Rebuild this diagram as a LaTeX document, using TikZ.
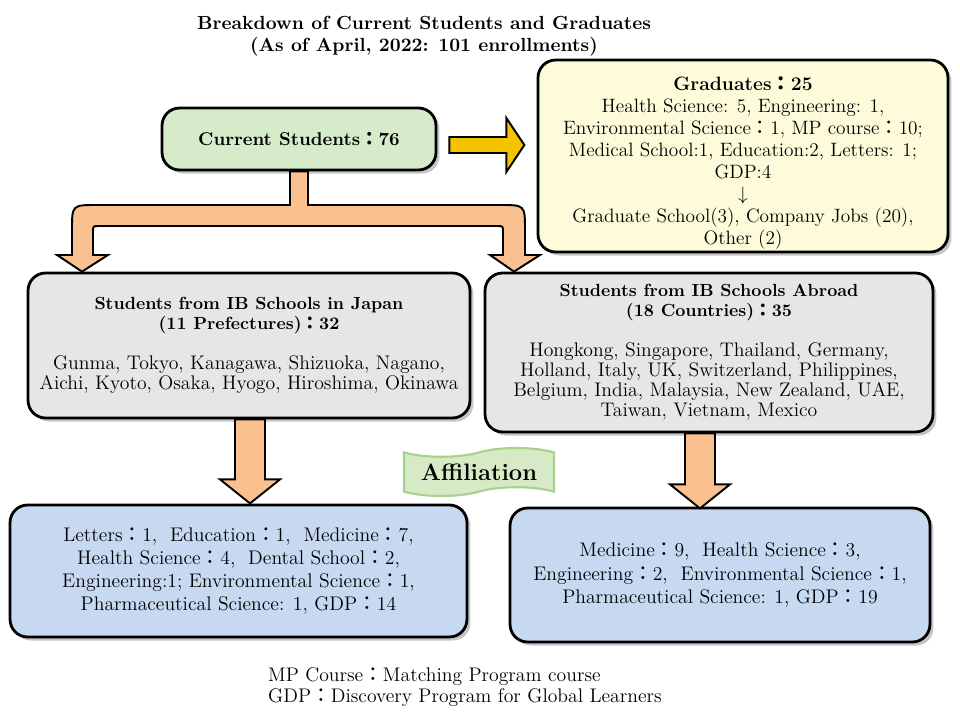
\documentclass[tikz,border=0pt]{standalone}
\usepackage{fontspec}
\newfontfamily\cjk{Noto Sans CJK JP}
\usepackage{tikz}
\usetikzlibrary{calc,shadows,shapes.symbols}

\definecolor{curgreen}{HTML}{D5EBC9}
\definecolor{gradyellow}{HTML}{FDFBD9}
\definecolor{ibgray}{HTML}{E6E6E6}
\definecolor{affblue}{HTML}{C6D9F1}
\definecolor{arroworange}{HTML}{FAC090}
\definecolor{arrowgold}{HTML}{F5C400}
\definecolor{tapegreen}{HTML}{D6EAC6}
\definecolor{tapeedge}{HTML}{A9D18E}

\newcommand{\fc}{{\cjk ：}}

\begin{document}
\begin{tikzpicture}[x=0.02cm, y=-0.02cm,
      nodes={align=center, font=\fontsize{11}{12.5}\selectfont},
      box/.style={draw=black, line width=1.6pt, rounded corners=10pt,
        drop shadow={opacity=0.45, shadow xshift=2pt, shadow yshift=-2pt}},
      blockarrow/.style={draw=black, line width=1.1pt, fill=arroworange, line join=miter},
      ]
  \useasboundingbox (0,0) rectangle (960,720);

  % title
  \node[font=\bfseries\fontsize{10.8}{12.5}\selectfont] (title) at (424,36)
    {Breakdown of Current Students and Graduates\\(As of April, 2022: 101 enrollments)};

  % boxes
  \node[box, fill=curgreen, minimum width=5.48cm, minimum height=1.24cm,
        font=\bfseries\fontsize{10.5}{12.5}\selectfont] (cur) at (299,139)
    {Current Students\fc 76};
  \node[box, fill=gradyellow, minimum width=8.2cm, minimum height=3.76cm, inner ysep=1.5pt] (grad) at (743,156)
    {\rule{0pt}{16pt}{\bfseries Graduates\fc 25}\\
     Health Science: 5, Engineering: 1,\\
     Environmental Science\fc 1, MP course\fc 10;\\
     Medical School:1, Education:2, Letters: 1;\\
     GDP:4\\
     $\downarrow$\\
     Graduate School(3), Company Jobs (20),\\
     Other (2)};
  \node[box, fill=ibgray, minimum width=8.84cm, minimum height=2.9cm,
        font=\fontsize{11.2}{11.5}\selectfont] (jp) at (249,345.5)
    {{\bfseries\fontsize{10}{10}\selectfont Students from IB Schools in Japan}\\
     {\bfseries\fontsize{10}{10}\selectfont (11 Prefectures)\fc 32}\\[11pt]
     Gunma, Tokyo, Kanagawa, Shizuoka, Nagano,\\
     Aichi, Kyoto, Osaka, Hyogo, Hiroshima, Okinawa};
  \node[box, fill=ibgray, minimum width=8.96cm, minimum height=3.18cm,
        font=\fontsize{11.2}{11.5}\selectfont] (ab) at (709,352.5)
    {{\bfseries\fontsize{10}{10}\selectfont Students from IB Schools Abroad}\\
     {\bfseries\fontsize{10}{10}\selectfont (18 Countries)\fc 35}\\[11pt]
     Hongkong, Singapore, Thailand, Germany,\\
     Holland, Italy, UK, Switzerland, Philippines,\\
     Belgium, India, Malaysia, New Zealand, UAE,\\
     Taiwan, Vietnam, Mexico};
  \node[box, fill=affblue, minimum width=9.14cm, minimum height=2.64cm,
        font=\fontsize{11.2}{13}\selectfont] (afjp) at (238.5,571)
    {Letters\fc 1,\ \ Education\fc 1,\ \ Medicine\fc 7,\\
     Health Science\fc 4,\ \ Dental School\fc 2,\\
     Engineering:1; Environmental Science\fc 1,\\
     Pharmaceutical Science: 1, GDP\fc 14};
  \node[box, fill=affblue, minimum width=8.4cm, minimum height=2.68cm,
        font=\fontsize{11.2}{13.3}\selectfont] (afab) at (720,575)
    {Medicine\fc 9,\ \ Health Science\fc 3,\\
     Engineering\fc 2,\ \ Environmental Science\fc 1,\\
     Pharmaceutical Science: 1, GDP\fc 19};

  % banner
  \node[tape, draw=tapeedge, line width=1.2pt, fill=tapegreen,
        minimum width=3cm, minimum height=0.96cm,
        font=\bfseries\fontsize{13.5}{15}\selectfont] (aff) at (479,472) {Affiliation};

  % note
  \node[anchor=west, align=left, font=\fontsize{11.2}{11.5}\selectfont] (note) at (262,687)
    {MP Course\fc Matching Program course\\GDP\fc Discovery Program for Global Learners};

  % arrows
  \draw[blockarrow, fill=arrowgold] ($(cur.east)+(12,-2)$) -- ++(57,0) -- ++(0,-19)
    -- ++(18,27) -- ++(-18,27) -- ++(0,-19) -- ++(-57,0) -- cycle;
  \draw[blockarrow] ($(cur.south)+(-9,0)$) -- (290,205) -- (97,205)
    .. controls (72,205) .. (72,230) -- (72,255) -- (57,255) -- ($(jp.north)+(-167,0)$)
    -- (108,255) -- (93,255) -- (93,232) .. controls (93,226) .. (99,226)
    -- (497,226) .. controls (503,226) .. (503,232) -- (503,255) -- (490,255)
    -- ($(ab.north)+(-195,0)$) -- (540,255) -- (525,255) -- (525,230)
    .. controls (525,205) .. (500,205) -- (308,205) -- ($(cur.south)+(9,0)$) -- cycle;
  \draw[blockarrow] ($(jp.south)+(-14,0)$) -- ++(0,60) -- ++(-15,0) -- ++(30,24)
    -- ++(30,-24) -- ++(-15,0) -- ++(0,-60) -- cycle;
  \draw[blockarrow] ($(ab.south)+(-24,0)$) -- ++(0,51) -- ++(-15,0) -- ++(30,24)
    -- ++(30,-24) -- ++(-15,0) -- ++(0,-51) -- cycle;

\end{tikzpicture}
\end{document}
